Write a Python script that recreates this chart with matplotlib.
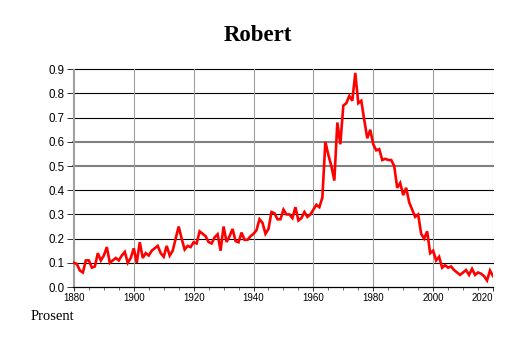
import matplotlib
matplotlib.use("Agg")
import matplotlib.pyplot as plt
from matplotlib.ticker import MultipleLocator, FixedLocator

title = "Robert"
ylabel_text = "Prosent"

years = list(range(1880, 2021))
share = [
    0.10, 0.095, 0.068, 0.06, 0.11, 0.11, 0.08, 0.085, 0.14, 0.11,
    0.13, 0.165, 0.10, 0.11, 0.12, 0.11, 0.13, 0.145, 0.10, 0.12,
    0.16, 0.10, 0.185, 0.12, 0.14, 0.13, 0.15, 0.16, 0.17, 0.14,
    0.125, 0.17, 0.13, 0.15, 0.20, 0.25, 0.20, 0.155, 0.17, 0.165,
    0.185, 0.18, 0.23,
    0.22, 0.21, 0.186, 0.18, 0.205, 0.218, 0.15, 0.25, 0.186, 0.21,
    0.24, 0.19, 0.185, 0.225, 0.195, 0.195, 0.21, 0.22, 0.235, 0.28,
    0.265, 0.22, 0.24, 0.31, 0.305, 0.28, 0.28, 0.32, 0.30, 0.30,
    0.285, 0.33, 0.275, 0.285, 0.31, 0.29, 0.30, 0.32, 0.34, 0.33,
    0.37, 0.60, 0.546, 0.50, 0.44, 0.68, 0.59,
    0.75, 0.76, 0.79, 0.77, 0.885, 0.76, 0.77, 0.69, 0.615, 0.65,
    0.59, 0.565, 0.57, 0.525, 0.53, 0.525, 0.525, 0.50, 0.41, 0.43,
    0.38, 0.41, 0.35, 0.32, 0.29, 0.30, 0.22, 0.20, 0.23, 0.14,
    0.15, 0.11, 0.125, 0.08, 0.09, 0.08, 0.085, 0.07, 0.06, 0.05,
    0.06, 0.07, 0.05, 0.075, 0.05, 0.06, 0.055, 0.045, 0.027, 0.068, 0.045,
]

x_ticks = [1880, 1900, 1920, 1940, 1960, 1980, 2000, 2020]
y_ticks = [0.0, 0.1, 0.2, 0.3, 0.4, 0.5, 0.6, 0.7, 0.8, 0.9]
gray_rows = [0.5, 0.6]

W, H = 514, 343
fig = plt.figure(figsize=(W / 100, H / 100), dpi=100)
L, R, T, B = 72.7, 493.3, 69.3, 287.0
ax = fig.add_axes([L / W, 1 - B / H, (R - L) / W, (B - T) / H])

ax.set_xlim(1879.6, 2020.1)
ax.set_ylim(0, 0.9)

# horizontal grid
for v in y_ticks[1:]:
    if v in gray_rows:
        ax.axhline(v, color="#808080", lw=1.5, zorder=1, clip_on=False)
    else:
        ax.axhline(v, color="black", lw=0.8, zorder=1, clip_on=False)
# vertical grid
for yr in x_ticks:
    ax.axvline(yr, color="#a0a0a0", lw=0.8, zorder=1)

ax.plot(years, share, color="#ff0000", lw=1.9, zorder=3, solid_joinstyle="miter")

for s in ["top", "right"]:
    ax.spines[s].set_visible(False)
ax.spines["left"].set_color("#a0a0a0")
ax.spines["left"].set_linewidth(0.8)
ax.spines["bottom"].set_color("black")
ax.spines["bottom"].set_linewidth(0.9)

ax.xaxis.set_major_locator(FixedLocator(x_ticks))
ax.xaxis.set_minor_locator(MultipleLocator(5))
ax.set_xticklabels([str(t) for t in x_ticks], fontfamily="Liberation Sans", fontsize=7)
ax.tick_params(axis="x", which="major", length=3, width=0.7, pad=1.5, color="#333333")
ax.tick_params(axis="x", which="minor", length=2.5, width=0.6, color="#555555")
lbls = ax.get_xticklabels()
lbls[-1].set_horizontalalignment("right")
lbls[-1].set_x(2020.6)

ax.set_yticks(y_ticks)
ax.set_yticklabels([f"{v:.1f}" for v in y_ticks], fontfamily="Liberation Sans", fontsize=8.3)
ax.tick_params(axis="y", length=4, width=0.7, pad=2, color="#333333")

fig.text(257.5 / W, 1 - 40.7 / H, title, ha="center", va="baseline",
         fontfamily="Liberation Serif", fontweight="bold", fontsize=16.5)
fig.text(31 / W, 1 - 320.5 / H, ylabel_text, ha="left", va="baseline",
         fontfamily="Liberation Serif", fontsize=10.5)

fig.savefig("out.png", dpi=100)
